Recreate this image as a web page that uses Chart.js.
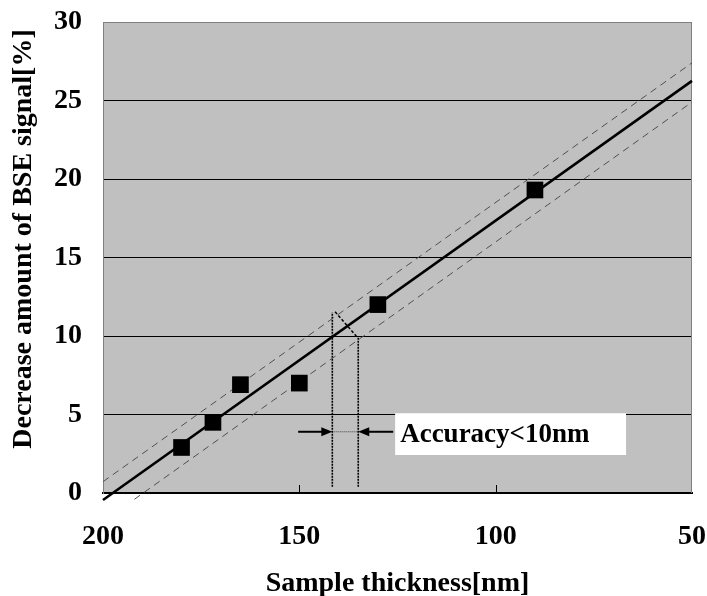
<!DOCTYPE html>
<html>
<head>
<meta charset="utf-8">
<script src="https://cdn.jsdelivr.net/npm/chart.js@4"></script>
<style>
  html, body { margin: 0; padding: 0; background: #fff; }
</style>
</head>
<body>
<canvas id="bseChart" width="707" height="596"></canvas>
<script>
// measured points: sample thickness [nm] vs decrease of BSE signal [%]
const thickness = [180, 172, 165, 150, 130, 90];
const decrease = [2.9, 4.5, 6.9, 7.0, 12.0, 19.3];

// fitted line and the dashed band around it
const fitX = [200, 50];
const fitY = [-0.45, 26.25];
const upperX = [200, 50];
const upperY = [0.72, 27.4];
const lowerX = [192, 50];
const lowerY = [-0.4, 24.9];

// accuracy marker (data units)
const markX = [141.6, 135.0];
const markTop = [11.5, 9.9];
const markBase = 0.4;
const bridgeX = [140.9, 135.4];
const bridgeY = [11.55, 9.96];
const arrowY = 3.9;
const arrowTail = [150.3, 126.1];
const noteX = [125.6, 66.8];
const noteY = [5.08, 2.42];
const noteText = 'Accuracy<10nm';

const xTicks = [200, 150, 100, 50];
const yTicks = [0, 5, 10, 15, 20, 25, 30];

const FONT = "'Liberation Serif', 'Times New Roman', serif";
const xy = (xs, ys) => xs.map((x, i) => ({ x, y: ys[i] }));
const vline = (x, y0, y1) => [{ x, y: y0 }, { x, y: y1 }];

const lineSet = (data, extra) => Object.assign({
  data, showLine: true, pointRadius: 0, borderColor: '#000', borderWidth: 1, clip: false
}, extra);

// keep edge labels from pushing the plot area around
const noEdgePad = s => { s.paddingLeft = s.paddingRight = s.paddingTop = s.paddingBottom = 0; };

const frame = {
  id: 'frame',
  beforeDraw(chart) {
    const { ctx, chartArea: a } = chart;
    ctx.save();
    ctx.fillStyle = '#c0c0c0';
    ctx.fillRect(a.left, a.top, a.right - a.left, a.bottom - a.top);
    ctx.restore();
  },
  beforeDatasetsDraw(chart) {
    const { ctx, chartArea: a, scales: { x } } = chart;
    ctx.save();
    ctx.strokeStyle = '#808080';
    ctx.lineWidth = 1;
    ctx.beginPath();
    ctx.moveTo(a.left, a.top + 0.5);
    ctx.lineTo(a.right - 0.5, a.top + 0.5);
    ctx.lineTo(a.right - 0.5, a.bottom);
    ctx.stroke();
    // inner tick marks on the x axis
    ctx.strokeStyle = '#000';
    xTicks.slice(1, -1).forEach(v => {
      const px = Math.round(x.getPixelForValue(v)) + 0.5;
      ctx.beginPath();
      ctx.moveTo(px, a.bottom);
      ctx.lineTo(px, a.bottom - 8);
      ctx.stroke();
    });
    ctx.restore();
  },
  afterDatasetsDraw(chart) {
    const { ctx, scales: { x, y } } = chart;
    ctx.save();
    const ay = y.getPixelForValue(arrowY);
    ctx.fillStyle = '#000';
    ctx.strokeStyle = '#000';
    ctx.lineWidth = 2;
    markX.forEach((m, i) => {
      const x0 = x.getPixelForValue(arrowTail[i]);
      const x1 = x.getPixelForValue(m);
      const dir = Math.sign(x1 - x0);
      ctx.beginPath();
      ctx.moveTo(x0, ay);
      ctx.lineTo(x1 - dir * 8, ay);
      ctx.stroke();
      ctx.beginPath();
      ctx.moveTo(x1, ay);
      ctx.lineTo(x1 - dir * 11, ay - 4.5);
      ctx.lineTo(x1 - dir * 11, ay + 4.5);
      ctx.closePath();
      ctx.fill();
    });
    // note box
    const bx0 = x.getPixelForValue(noteX[0]);
    const bx1 = x.getPixelForValue(noteX[1]);
    const by0 = y.getPixelForValue(noteY[0]);
    const by1 = y.getPixelForValue(noteY[1]);
    ctx.fillStyle = '#fff';
    ctx.fillRect(bx0, by0, bx1 - bx0, by1 - by0);
    ctx.fillStyle = '#000';
    ctx.font = 'bold 27px ' + FONT;
    ctx.textAlign = 'left';
    ctx.textBaseline = 'middle';
    ctx.fillText(noteText, bx0 + 5, (by0 + by1) / 2 + 1);
    ctx.restore();
  },
  afterDraw(chart) {
    const { ctx } = chart;
    ctx.save();
    ctx.translate(24, 239);
    ctx.rotate(-Math.PI / 2);
    ctx.fillStyle = '#000';
    ctx.font = 'bold 28px ' + FONT;
    ctx.textAlign = 'center';
    ctx.textBaseline = 'middle';
    ctx.fillText('Decrease amount of BSE signal[%]', 0, 0);
    ctx.restore();
  }
};

new Chart(document.getElementById('bseChart'), {
  type: 'scatter',
  data: {
    datasets: [
      { data: xy(thickness, decrease), pointStyle: 'rect', pointRadius: 11.8, pointHoverRadius: 11.8,
        backgroundColor: '#000', borderColor: '#000', borderWidth: 0, showLine: false },
      lineSet(xy(fitX, fitY), { borderWidth: 2.6 }),
      lineSet(xy(upperX, upperY), { borderColor: '#505050', borderDash: [7, 5] }),
      lineSet(xy(lowerX, lowerY), { borderColor: '#505050', borderDash: [7, 5] }),
      lineSet(vline(markX[0], markBase, markTop[0]), { borderWidth: 1.6, borderDash: [2, 1] }),
      lineSet(vline(markX[1], markBase, markTop[1]), { borderWidth: 1.6, borderDash: [2, 1] }),
      lineSet(xy(bridgeX, bridgeY), { borderWidth: 1.5, borderDash: [3, 2] }),
      lineSet(xy(markX, [arrowY, arrowY]), { borderColor: '#444', borderDash: [1, 1] })
    ]
  },
  options: {
    responsive: false,
    animation: false,
    devicePixelRatio: 1,
    layout: { padding: { top: 22, right: 15, left: 0, bottom: 0 } },
    plugins: {
      legend: { display: false },
      tooltip: { enabled: false }
    },
    scales: {
      x: {
        type: 'linear',
        reverse: true,
        min: 50,
        max: 200,
        afterBuildTicks: s => { s.ticks = xTicks.map(v => ({ value: v })); },
        afterFit: s => { s.height = 103; noEdgePad(s); },
        grid: { display: false, drawTicks: false },
        border: { display: true, color: '#000', width: 2 },
        ticks: {
          padding: 27, color: '#000', maxRotation: 0, autoSkip: false,
          font: { family: FONT, size: 28, weight: 'bold' }
        },
        title: {
          display: true, text: 'Sample thickness[nm]', color: '#000',
          font: { family: FONT, size: 28, weight: 'bold', lineHeight: 0.9 },
          padding: { top: 0, bottom: 0 }
        }
      },
      y: {
        min: 0,
        max: 30,
        afterBuildTicks: s => { s.ticks = yTicks.map(v => ({ value: v })); },
        afterFit: s => { s.width = 103; noEdgePad(s); },
        grid: {
          drawTicks: false,
          lineWidth: 1,
          color: c => c.tick.value === 30 ? '#808080' : (c.tick.value === 0 ? 'rgba(0,0,0,0)' : '#000')
        },
        border: { color: '#808080', width: 1 },
        ticks: {
          padding: 21, color: '#000',
          font: { family: FONT, size: 28, weight: 'bold' }
        }
      }
    }
  },
  plugins: [frame]
});
</script>
</body>
</html>
